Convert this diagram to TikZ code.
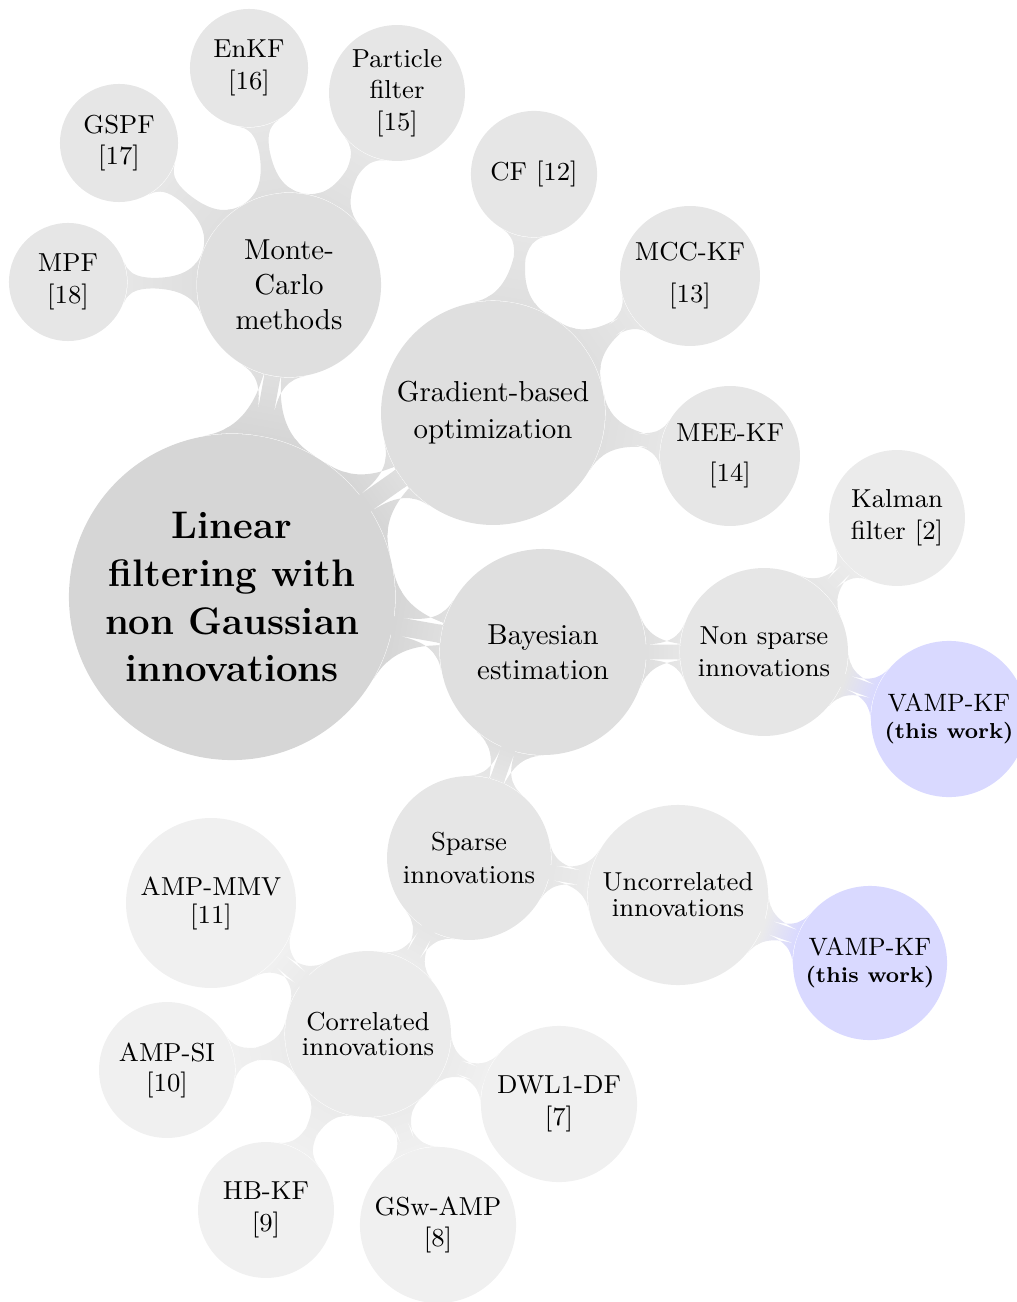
\documentclass[tikz,border=0pt]{standalone}
\usetikzlibrary{mindmap,backgrounds}
\definecolor{rootgray}{HTML}{D6D6D6}
\definecolor{onegray}{HTML}{DFDFDF}
\definecolor{twogray}{HTML}{E6E6E6}
\definecolor{threegray}{HTML}{EBEBEB}
\definecolor{fourgray}{HTML}{F0F0F0}
\definecolor{thiswork}{HTML}{D9D9FF}
\tikzset{idea/.style={circle,inner sep=0pt,align=center,text=black},
rootidea/.style={idea,fill=rootgray,minimum size=113pt,font=\fontsize{13.3}{16.6}\selectfont\bfseries},
lone/.style={idea,fill=onegray,font=\fontsize{10}{12.4}\selectfont},
ltwo/.style={idea,fill=twogray,font=\fontsize{9}{11}\selectfont},
lthree/.style={idea,fill=threegray,font=\fontsize{9}{11}\selectfont},
lfour/.style={idea,fill=fourgray,font=\fontsize{9}{11}\selectfont},
ours/.style={idea,fill=thiswork,font=\fontsize{8.7}{9.4}\selectfont},
link/.style n args={5}{circle connection bar switch color=from (#1) to (#2),
 decoration={start radius=#3,end radius=#4,amplitude=#5}}}
\newcommand{\thiswork}{{\fontsize{7.5}{9}\selectfont\bfseries (this work)}}

\begin{document}
\begin{tikzpicture}[x=0.3465pt,y=-0.3465pt]
\useasboundingbox (0,0) rectangle (1016,1302);
% root and first ring
\node[rootidea] (root) at (232,597) {Linear\\filtering with\\non Gaussian\\innovations};
\node[lone,minimum size=63.8pt,font=\fontsize{10}{12.1}\selectfont] (mc) at (289,285) {Monte-\\Carlo\\methods};
\node[lone,minimum size=77.6pt,font=\fontsize{10}{12.8}\selectfont] (grad) at (493,413) {Gradient-based\\optimization};
\node[lone,minimum size=71.4pt,font=\fontsize{10}{12.1}\selectfont] (bayes) at (543,652) {Bayesian\\estimation};
% Monte-Carlo methods
\node[ltwo,minimum size=40.9pt] (mpf) at (68,282) {MPF\\{[18]}};
\node[ltwo,minimum size=40.9pt] (gspf) at (119,143) {GSPF\\{[17]}};
\node[ltwo,minimum size=40.9pt] (enkf) at (249,68) {EnKF\\{[16]}};
\node[ltwo,minimum size=47.1pt] (pf) at (397,93) {Particle\\filter\\{[15]}};
% gradient-based
\node[ltwo,minimum size=43.7pt] (cf) at (534,174) {CF [12]};
\node[ltwo,minimum size=48.5pt] (mcc) at (690,276) {MCC-KF\\[3.5pt]{[13]}};
\node[ltwo,minimum size=48.5pt] (mee) at (730,456) {MEE-KF\\[3pt]{[14]}};
% Bayesian estimation
\node[ltwo,minimum size=58.2pt] (dense) at (764,652) {Non sparse\\innovations};
\node[lthree,minimum size=47.1pt] (kf) at (897,518) {Kalman\\filter [2]};
\node[ours,minimum size=54.1pt] (vampa) at (949,719) {VAMP-KF\\\thiswork};
\node[ltwo,minimum size=56.8pt,font=\fontsize{9}{11.4}\selectfont] (sparse) at (469,858) {Sparse\\innovations};
\node[lthree,minimum size=62.4pt,font=\fontsize{9}{9}\selectfont] (uncor) at (678,895) {Uncorrelated\\innovations};
\node[ours,minimum size=53.4pt] (vampb) at (870,963) {VAMP-KF\\\thiswork};
\node[lthree,minimum size=57.5pt,font=\fontsize{9}{8.7}\selectfont] (cor) at (368,1034) {Correlated\\innovations};
% correlated innovations
\node[lfour,minimum size=58.9pt,font=\fontsize{9}{9.7}\selectfont] (mmv) at (211,903) {AMP-MMV\\{[11]}};
\node[lfour,minimum size=47.1pt,font=\fontsize{9}{10.4}\selectfont] (si) at (167,1070) {AMP-SI\\{[10]}};
\node[lfour,minimum size=47.1pt] (hb) at (266,1210) {HB-KF\\{[9]}};
\node[lfour,minimum size=54.1pt] (gsw) at (438,1225) {GSw-AMP\\{[8]}};
\node[lfour,minimum size=54.1pt] (dwl) at (559,1104) {DWL1-DF\\{[7]}};

\begin{scope}[on background layer]
\path (root) to[link={rootgray}{onegray}{56.5pt}{31.9pt}{3.6pt}] (mc);
\path (root) to[link={rootgray}{onegray}{56.5pt}{38.8pt}{3.6pt}] (grad);
\path (root) to[link={rootgray}{onegray}{56.5pt}{35.7pt}{3.6pt}] (bayes);
\path (mc) to[link={onegray}{twogray}{31.9pt}{20.4pt}{2pt}] (mpf);
\path (mc) to[link={onegray}{twogray}{31.9pt}{20.4pt}{2pt}] (gspf);
\path (mc) to[link={onegray}{twogray}{31.9pt}{20.4pt}{2pt}] (enkf);
\path (mc) to[link={onegray}{twogray}{31.9pt}{23.5pt}{2pt}] (pf);
\path (grad) to[link={onegray}{twogray}{38.8pt}{21.8pt}{2pt}] (cf);
\path (grad) to[link={onegray}{twogray}{38.8pt}{24.2pt}{2pt}] (mcc);
\path (grad) to[link={onegray}{twogray}{38.8pt}{24.2pt}{2pt}] (mee);
\path (bayes) to[link={onegray}{twogray}{35.7pt}{29.1pt}{3.4pt}] (dense);
\path (bayes) to[link={onegray}{twogray}{35.7pt}{28.4pt}{3.4pt}] (sparse);
\path (dense) to[link={twogray}{threegray}{29.1pt}{23.5pt}{2.4pt}] (kf);
\path (dense) to[link={twogray}{thiswork}{29.1pt}{27pt}{2.4pt}] (vampa);
\path (sparse) to[link={twogray}{threegray}{28.4pt}{31.2pt}{2.6pt}] (uncor);
\path (sparse) to[link={twogray}{threegray}{28.4pt}{28.7pt}{2.6pt}] (cor);
\path (uncor) to[link={threegray}{thiswork}{31.2pt}{26.7pt}{2.4pt}] (vampb);
\path (cor) to[link={threegray}{fourgray}{28.7pt}{29.5pt}{2pt}] (mmv);
\path (cor) to[link={threegray}{fourgray}{28.7pt}{23.5pt}{2pt}] (si);
\path (cor) to[link={threegray}{fourgray}{28.7pt}{23.5pt}{2pt}] (hb);
\path (cor) to[link={threegray}{fourgray}{28.7pt}{27pt}{2pt}] (gsw);
\path (cor) to[link={threegray}{fourgray}{28.7pt}{27pt}{2pt}] (dwl);
\end{scope}
\end{tikzpicture}
\end{document}
